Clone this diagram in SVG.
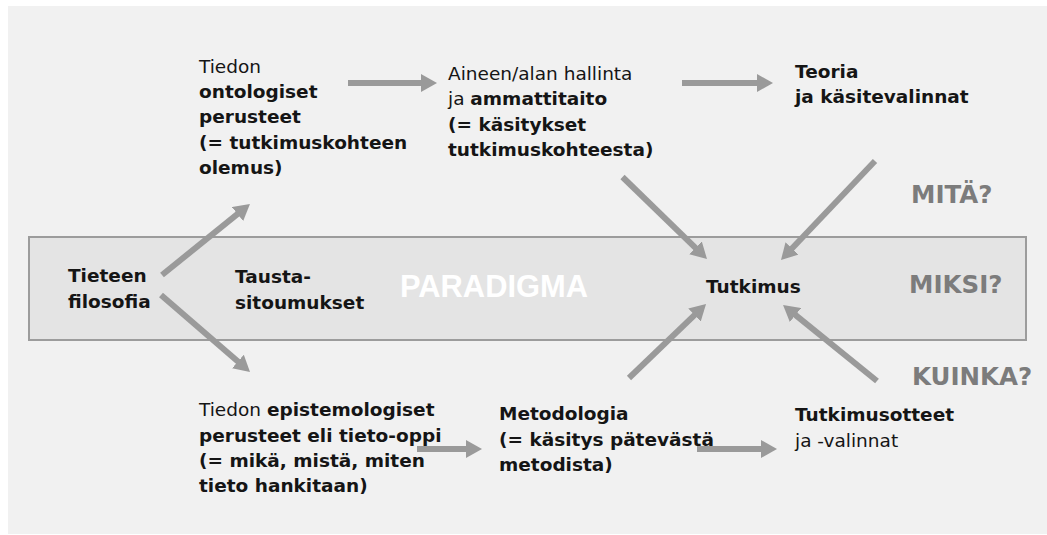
<svg xmlns="http://www.w3.org/2000/svg" width="1047" height="535" viewBox="0 0 1047 535">
<defs>
<style>
text{font-family:"DejaVu Sans","Liberation Sans",sans-serif;font-size:18.5px;fill:#151515}
.b{font-weight:bold}
.r{font-weight:normal}
.q{font-weight:bold;font-size:24.5px;fill:#7c7c7c}
.pd{font-family:"Liberation Sans",Arial,sans-serif;font-weight:bold;font-size:30.5px;fill:#ffffff}
.c line{stroke:#9a9a9a;stroke-width:6;marker-end:url(#ah)}
</style>
<marker id="ah" markerUnits="userSpaceOnUse" markerWidth="16" markerHeight="18" refX="5" refY="9" orient="auto" viewBox="0 0 16 18">
<path d="M0,0 L16,9 L0,18 z" fill="#9a9a9a"/>
</marker>
</defs>
<rect x="0" y="0" width="1047" height="535" fill="#ffffff"/>
<rect x="8" y="6" width="1039" height="528" fill="#f1f1f1"/>
<g id="paradigma">
<rect x="29" y="237" width="997" height="103" fill="#e4e4e4" stroke="#9c9c9c" stroke-width="2"/>
<text class="pd" x="400" y="297" textLength="188" lengthAdjust="spacingAndGlyphs">PARADIGMA</text>
</g>
<g id="ontologiset">
<text class="r" x="199" y="73">Tiedon</text>
<text class="b" x="199" y="98">ontologiset</text>
<text class="b" x="199" y="123">perusteet</text>
<text class="b" x="199" y="149">(= tutkimuskohteen</text>
<text class="b" x="199" y="174">olemus)</text>
</g>
<g id="hallinta">
<text class="r" x="448" y="80">Aineen/alan hallinta</text>
<text x="448" y="105"><tspan class="r">ja </tspan><tspan class="b">ammattitaito</tspan></text>
<text class="b" x="448" y="131">(= käsitykset</text>
<text class="b" x="448" y="156">tutkimuskohteesta)</text>
</g>
<g id="teoria">
<text class="b" x="795" y="78">Teoria</text>
<text class="b" x="795" y="103">ja käsitevalinnat</text>
</g>
<g id="tieteenfilosofia">
<text class="b" x="68" y="282">Tieteen</text>
<text class="b" x="68" y="308">filosofia</text>
</g>
<g id="taustasitoumukset">
<text class="b" x="235" y="283">Tausta-</text>
<text class="b" x="235" y="309">sitoumukset</text>
</g>
<g id="tutkimus">
<text class="b" x="706" y="293">Tutkimus</text>
</g>
<g id="kysymykset">
<text class="q" x="911" y="203">MITÄ?</text>
<text class="q" x="909" y="293">MIKSI?</text>
<text class="q" x="912" y="385">KUINKA?</text>
</g>
<g id="epistemologiset">
<text x="199" y="416"><tspan class="r">Tiedon </tspan><tspan class="b">epistemologiset</tspan></text>
<text class="b" x="199" y="442">perusteet eli tieto-oppi</text>
<text class="b" x="199" y="467">(= mikä, mistä, miten</text>
<text class="b" x="199" y="492">tieto hankitaan)</text>
</g>
<g id="metodologia">
<text class="b" x="499" y="420">Metodologia</text>
<text class="b" x="499" y="446">(= käsitys pätevästä</text>
<text class="b" x="499" y="471">metodista)</text>
</g>
<g id="tutkimusotteet">
<text class="b" x="795" y="421">Tutkimusotteet</text>
<text class="r" x="795" y="447">ja -valinnat</text>
</g>
<g id="connectors" class="c">
<line x1="162" y1="275" x2="241.4" y2="210.9"/>
<line x1="161" y1="295" x2="241.7" y2="364.8"/>
<line x1="348" y1="83" x2="426" y2="83"/>
<line x1="682" y1="83" x2="762" y2="83"/>
<line x1="622.5" y1="177" x2="699.1" y2="251.3"/>
<line x1="875" y1="161" x2="788.6" y2="252"/>
<line x1="629" y1="378" x2="698.1" y2="311.6"/>
<line x1="877" y1="381" x2="791.6" y2="311.9"/>
<line x1="417" y1="449" x2="471" y2="449"/>
<line x1="697" y1="449" x2="766" y2="449"/>
</g>
</svg>
